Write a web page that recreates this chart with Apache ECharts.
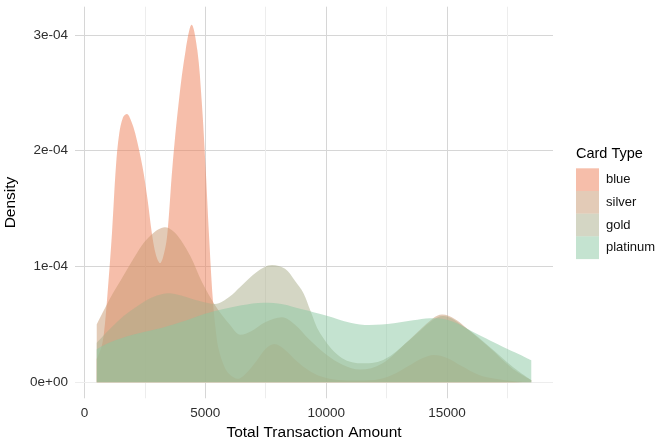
<!DOCTYPE html>
<html><head><meta charset="utf-8">
<script src="https://cdn.jsdelivr.net/npm/echarts@6/dist/echarts.min.js"></script>
<style>html,body{margin:0;padding:0;background:#fff}#c{width:672px;height:447px}</style>
</head><body><div id="c"></div>
<script>
// density values in units of 1e-4
const DENSITY_UNIT = 1e-4;
const cardTypes = ['blue', 'silver', 'gold', 'platinum'];
const blueDensity = [[510,0.20],[700,0.30],[811,0.43],[950,0.75],[1141,1.29],[1306,1.87],[1442,2.15],[1600,2.29],[1759,2.317],[1930,2.26],[2101,2.15],[2405,1.86],[2611,1.58],[2789,1.29],[2960,1.10],[3130,1.03],[3300,1.12],[3435,1.29],[3641,1.86],[3913,2.44],[4189,2.87],[4436,3.088],[4671,2.87],[4848,2.44],[5013,1.86],[5149,1.29],[5314,0.71],[5450,0.42],[5561,0.28],[5800,0.13],[6000,0.07],[6350,0.03],[6700,0.08],[7100,0.18],[7500,0.29],[7855,0.33],[8300,0.28],[8800,0.18],[9300,0.10],[9800,0.05],[10500,0.02],[11200,0.015],[12000,0.02],[12700,0.06],[13400,0.14],[14000,0.21],[14450,0.236],[15000,0.21],[15600,0.14],[16300,0.065],[17000,0.03],[17800,0.01],[18484,0.005]];
const silverDensity = [[510,0.50],[800,0.62],[1100,0.74],[1500,0.88],[1924,1.03],[2405,1.19],[2747,1.27],[3050,1.32],[3330,1.34],[3650,1.31],[3985,1.23],[4395,1.085],[4877,0.86],[5425,0.66],[6043,0.49],[6455,0.41],[6900,0.44],[7500,0.52],[8172,0.562],[8700,0.50],[9300,0.37],[10025,0.236],[10700,0.15],[11400,0.11],[12300,0.16],[13400,0.36],[14400,0.55],[14800,0.585],[15300,0.55],[15800,0.47],[16750,0.30],[17700,0.12],[18484,0.02]];
const goldDensity = [[510,0.34],[1000,0.45],[1500,0.55],[2000,0.63],[2500,0.70],[3000,0.75],[3470,0.77],[4000,0.75],[4800,0.70],[5400,0.677],[6000,0.74],[6455,0.826],[7142,0.956],[7760,1.014],[8300,0.98],[8700,0.88],[9062,0.77],[9338,0.625],[9750,0.423],[10573,0.22],[11400,0.164],[12358,0.193],[13457,0.366],[14416,0.538],[14828,0.573],[15791,0.467],[16752,0.308],[17712,0.135],[18484,0.02]];
const platinumDensity = [[510,0.285],[1000,0.34],[2000,0.41],[3000,0.46],[3365,0.48],[4000,0.52],[4807,0.58],[5500,0.62],[6500,0.665],[7414,0.688],[8200,0.675],[9000,0.63],[10025,0.575],[11000,0.515],[11800,0.495],[12800,0.51],[13600,0.535],[14300,0.553],[14800,0.548],[15400,0.51],[15930,0.452],[16600,0.38],[17300,0.308],[18000,0.24],[18484,0.19]];
const xTickLabels = {0: '0', 5000: '5000', 10000: '10000', 15000: '15000'};
const yTickLabels = ['0e+00', '1e-04', '2e-04', '3e-04'];
const xMinorGrid = [2500, 7500, 12500, 17500];
const yMinorGrid = [0.5, 1.5, 2.5];

const seriesValues = [blueDensity, silverDensity, goldDensity, platinumDensity];
const fills = ['rgba(237,125,85,0.5)', 'rgba(199,151,111,0.5)', 'rgba(169,173,137,0.5)', 'rgba(137,199,161,0.5)'];
const FONT = "'Liberation Sans', Arial, Helvetica, sans-serif";

const chart = echarts.init(document.getElementById('c'), null, {renderer: 'canvas'});

const series = [{
  name: 'minorGrid',
  type: 'line',
  z: 1,
  silent: true,
  symbol: 'none',
  lineStyle: {opacity: 0},
  data: [],
  markLine: {
    z: 1,
    silent: true,
    symbol: 'none',
    animation: false,
    label: {show: false},
    lineStyle: {color: '#ededed', width: 1, type: 'solid'},
    data: xMinorGrid.map(v => ({xAxis: v})).concat(yMinorGrid.map(v => ({yAxis: v * DENSITY_UNIT})))
  }
}].concat(cardTypes.map((name, i) => ({
  name: name,
  type: 'line',
  z: 3,
  smooth: 0.35,
  showSymbol: false,
  symbol: 'none',
  silent: true,
  color: fills[i],
  lineStyle: {width: 0, color: fills[i]},
  itemStyle: {color: fills[i]},
  areaStyle: {color: fills[i], opacity: 1, origin: 'auto'},
  data: seriesValues[i].map(p => [p[0], p[1] * DENSITY_UNIT])
})));

chart.setOption({
  animation: false,
  backgroundColor: '#ffffff',
  grid: {left: 75, right: 119, top: 6.7, bottom: 48.7, containLabel: false, outerBoundsMode: 'none'},
  title: {
    text: 'Card Type', left: 576, top: 146, padding: 0,
    textStyle: {fontFamily: FONT, fontSize: 14.5, fontWeight: 'normal', color: '#000'}
  },
  legend: {
    data: cardTypes,
    orient: 'vertical',
    left: 576, top: 168.3,
    padding: 0,
    itemWidth: 23, itemHeight: 22.7, itemGap: 0,
    icon: 'rect',
    selectedMode: false,
    textStyle: {fontFamily: FONT, fontSize: 13, color: '#111', padding: [0, 0, 0, 2]}
  },
  xAxis: {
    type: 'value',
    min: -389, max: 19383,
    splitNumber: 4,
    name: 'Total Transaction Amount',
    nameLocation: 'middle',
    nameGap: 23,
    nameTextStyle: {fontFamily: FONT, fontSize: 15.5, color: '#000'},
    axisLine: {show: false},
    axisTick: {show: false},
    axisLabel: {
      fontFamily: FONT, fontSize: 13.5, color: '#2e2e2e', margin: 8,
      showMinLabel: false, showMaxLabel: false,
      formatter: v => (xTickLabels[v] !== undefined ? xTickLabels[v] : '')
    },
    splitLine: {show: true, showMinLine: false, showMaxLine: false, lineStyle: {color: '#d6d6d6', width: 1}}
  },
  yAxis: {
    type: 'value',
    min: -0.138e-4, max: 3.244e-4,
    splitNumber: 4,
    name: 'Density',
    nameLocation: 'middle',
    nameGap: 51,
    nameRotate: 90,
    nameTextStyle: {fontFamily: FONT, fontSize: 15.5, color: '#000'},
    axisLine: {show: false},
    axisTick: {show: false},
    axisLabel: {
      fontFamily: FONT, fontSize: 13.5, color: '#2e2e2e', margin: 7,
      showMinLabel: false, showMaxLabel: false,
      formatter: v => {
        const n = Math.round(v / DENSITY_UNIT);
        if (Math.abs(v - n * DENSITY_UNIT) > 1e-9 || n < 0 || n >= yTickLabels.length) return '';
        return yTickLabels[n];
      }
    },
    splitLine: {show: true, showMinLine: false, showMaxLine: false, lineStyle: {color: '#d6d6d6', width: 1}}
  },
  series: series
});
</script></body></html>
